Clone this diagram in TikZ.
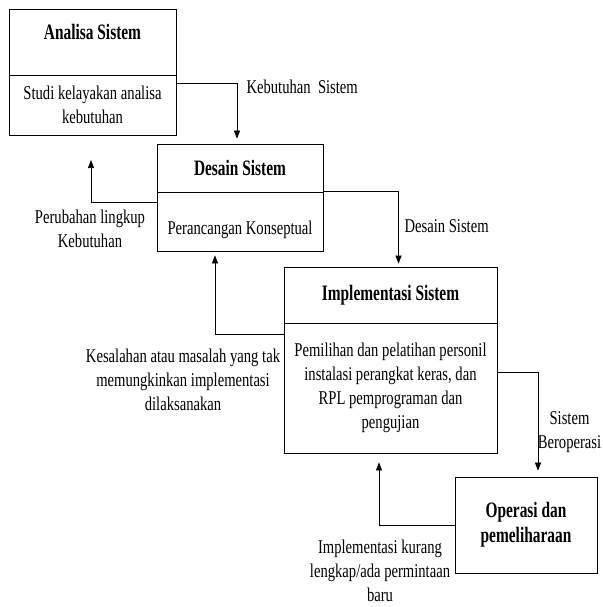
\documentclass[tikz,border=0pt]{standalone}
\usepackage{fontspec}
\setmainfont{Liberation Serif}[FakeStretch=0.75]
\newfontfamily\ttlfont{Liberation Serif}[FakeStretch=0.70]
\usetikzlibrary{arrows.meta}

\begin{document}
\begin{tikzpicture}
  [x=1pt,y=-1pt,
   every node/.style={font=\fontsize{19.5}{24}\selectfont,align=center},
   part/.style={draw,line width=0.8pt,inner sep=0pt},
   ttl/.style={part,font=\ttlfont\bfseries\fontsize{22}{25}\selectfont},
   flow/.style={draw,line width=0.7pt,-{Triangle[length=8pt,width=6pt]}}]
  \useasboundingbox (0,0) rectangle (602,607);

  % stages
  \node[ttl,minimum width=167pt,minimum height=66pt,text depth=20pt] (anT) at (92.5,42) {Analisa Sistem};
  \node[part,minimum width=167pt,minimum height=60pt] (anB) at (92.5,105) {Studi kelayakan analisa\\kebutuhan};
  \node[ttl,minimum width=166pt,minimum height=48pt] (deT) at (240,168) {Desain Sistem};
  \node[part,minimum width=166pt,minimum height=59pt,text height=25pt,text depth=0pt] (deB) at (240,221.5) {Perancangan Konseptual};
  \node[ttl,minimum width=213pt,minimum height=56pt] (imT) at (390.5,295) {Implementasi Sistem};
  \node[part,minimum width=213pt,minimum height=130pt] (imB) at (390.5,388) {Pemilihan dan pelatihan personil\\instalasi perangkat keras, dan\\RPL pemprograman dan\\pengujian};
  \node[ttl,minimum width=142pt,minimum height=96pt] (opB) at (526,525) {Operasi dan\\pemeliharaan};

  % flows
  \coordinate (chgTip) at (91,160);
  \draw[flow,shorten >=5pt] ([yshift=-9pt]anB.north east) -| ([xshift=-3pt]deT.north);
  \draw[flow] ([yshift=-11pt]deB.north west) -| (chgTip);
  \draw[flow,shorten >=3pt] (deB.north east) -| ([xshift=8pt]imT.north);
  \draw[flow,shorten >=4pt] ([yshift=-12pt]imB.north west) -| ([xshift=-25pt]deB.south);
  \draw[flow,shorten >=6pt] ([yshift=-50pt]imB.north east) -| ([xshift=12pt]opB.north);
  \draw[flow,shorten >=9pt] (opB.west) -| ([xshift=-11.5pt]imB.south);

  % labels
  \node[anchor=west] (kebLbl) at (243,87) {Kebutuhan\ \ Sistem};
  \node (chgLbl) at (90,229) {Perubahan lingkup\\Kebutuhan};
  \node[anchor=west] (dsLbl) at (401,226) {Desain Sistem};
  \node (errLbl) at (183,380) {Kesalahan atau masalah yang tak\\memungkinkan implementasi\\dilaksanakan};
  \node (opLbl) at (569.5,432) {Sistem\\Beroperasi};
  \node (revLbl) at (380,571) {Implementasi kurang\\lengkap/ada permintaan\\baru};
\end{tikzpicture}
\end{document}
